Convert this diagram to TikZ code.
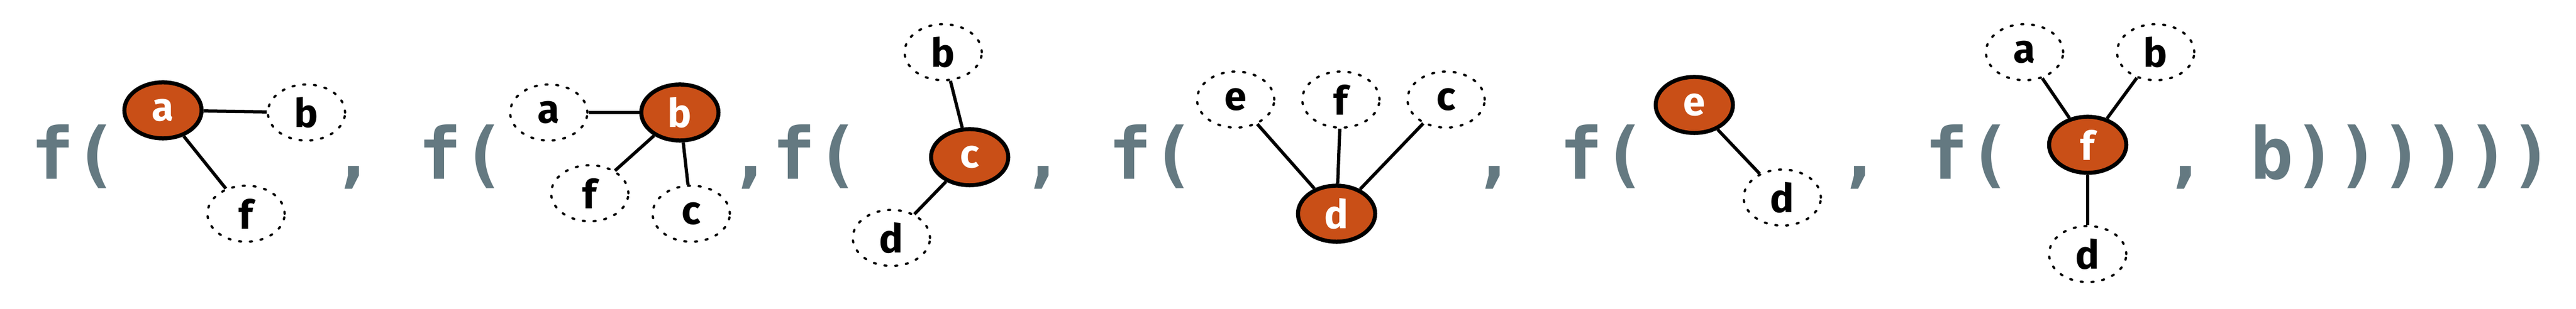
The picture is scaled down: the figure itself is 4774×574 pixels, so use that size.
\documentclass[tikz,border=0pt]{standalone}
\usepackage{fontspec}
\setmainfont{Fira Sans}
\newfontfamily\codefont{DejaVu Sans Mono}
\usetikzlibrary{shapes.geometric}
\definecolor{codegray}{RGB}{100,121,129}
\definecolor{nodeorange}{RGB}{201,79,23}
\begin{document}
\begin{tikzpicture}[x=0.01cm,y=-0.01cm,
  code/.style={font=\codefont\bfseries\fontsize{37.8}{40}\selectfont, text=codegray, inner sep=0, anchor=base},
  nd/.style={ellipse, minimum width=1.43cm, minimum height=1.04cm, inner sep=0, font=\bfseries\fontsize{21}{24}\selectfont},
  hot/.style={nd, fill=nodeorange, draw=black, line width=0.075cm, text=white},
  cold/.style={nd, draw=black, line width=0.042cm, dash pattern=on 0.035cm off 0.165cm, line cap=round, fill=white},
  link/.style={line width=0.06cm, draw=black}
]
\useasboundingbox (0,0) rectangle (4774,574);

% text pieces
\node[code] (t1) at (138,333) {f(};
\node[code] (t2) at (776,333) {, f(};
\node[code] (t3) at (1472,333) {,f(};
\node[code] (t4) at (2054,333) {, f(};
\node[code] (t5) at (2890,333) {, f(};
\node[code] (t6) at (3567,333) {, f(};
\node[code] (t7) at (4371,333) {, b))))))};

% graph 1
\node[hot]  (a1) at (302,205) {a};
\node[cold] (b1) at (568,209) {b};
\node[cold] (f1) at (456,397) {f};
\draw[link] (a1) -- (b1);
\draw[link] (a1) -- (f1);

% graph 2
\node[cold] (a2) at (1017,209) {a};
\node[hot]  (b2) at (1260,209) {b};
\node[cold] (f2) at (1093,359) {f};
\node[cold] (c2) at (1281,397) {c};
\draw[link] (b2) -- (a2);
\draw[link] (b2) -- (f2);
\draw[link] (b2) -- (c2);

% graph 3
\node[cold] (b3) at (1748,97) {b};
\node[hot]  (c3) at (1797,292) {c};
\node[cold] (d3) at (1652,442) {d};
\draw[link] (c3) -- (b3);
\draw[link] (c3) -- (d3);

% graph 4
\node[cold] (e4) at (2290,185) {e};
\node[cold] (f4) at (2485,185) {f};
\node[cold] (c4) at (2680,185) {c};
\node[hot]  (d4) at (2477,397) {d};
\draw[link] (d4) -- (e4);
\draw[link] (d4) -- (f4);
\draw[link] (d4) -- (c4);

% graph 5
\node[hot]  (e5) at (3140,195) {e};
\node[cold] (d5) at (3303,367) {d};
\draw[link] (e5) -- (d5);

% graph 6
\node[cold] (a6) at (3752,97) {a};
\node[cold] (b6) at (3995,97) {b};
\node[hot]  (f6) at (3869,269) {f};
\node[cold] (d6) at (3869,472) {d};
\draw[link] (f6) -- (a6);
\draw[link] (f6) -- (b6);
\draw[link] (f6) -- (d6);
\end{tikzpicture}
\end{document}
